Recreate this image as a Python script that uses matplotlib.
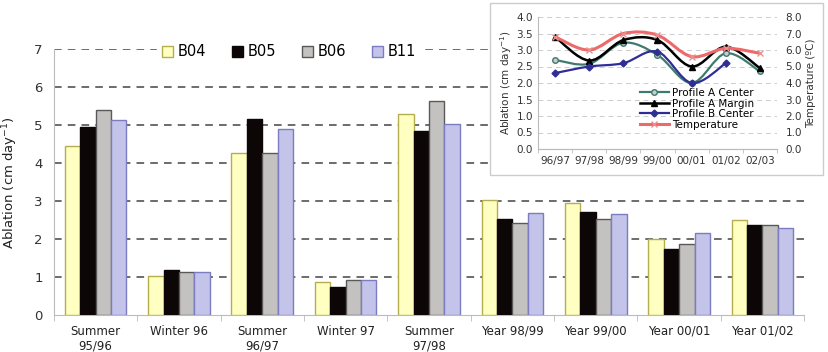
import numpy as np
import matplotlib.pyplot as plt
from matplotlib.path import Path
from matplotlib.patches import PathPatch, Rectangle
from matplotlib.lines import Line2D

categories = ['Summer\n95/96', 'Winter 96', 'Summer\n96/97', 'Winter 97', 'Summer\n97/98',
              'Year 98/99', 'Year 99/00', 'Year 00/01', 'Year 01/02']
b04 = [4.45, 1.02, 4.28, 0.86, 5.30, 3.02, 2.94, 2.00, 2.51]
b05 = [4.96, 1.19, 5.16, 0.74, 4.86, 2.52, 2.71, 1.75, 2.38]
b06 = [5.41, 1.13, 4.28, 0.93, 5.63, 2.42, 2.54, 1.86, 2.38]
b11 = [5.14, 1.13, 4.90, 0.93, 5.03, 2.70, 2.66, 2.15, 2.28]

years = ['96/97', '97/98', '98/99', '99/00', '00/01', '01/02', '02/03']
prof_a_center = [2.70, 2.58, 3.22, 2.85, 2.00, 2.90, 2.35]
prof_a_margin = [3.40, 2.68, 3.30, 3.30, 2.50, 3.10, 2.45]
prof_b_center = [2.30, 2.50, 2.60, 2.95, 2.00, 2.60]
temperature = [6.8, 6.0, 7.0, 6.9, 5.6, 6.1, 5.8]

fig = plt.figure(figsize=(8.29, 3.52), dpi=100)
ax = fig.add_axes([0.065, 0.105, 0.905, 0.755])

x = np.arange(len(categories))
w = 0.185
series = [(b04, '#FFFFC2', '#B5AD4E', 'B04'),
          (b05, '#0D0607', '#0D0607', 'B05'),
          (b06, '#C4C2C0', '#5A5858', 'B06'),
          (b11, '#C4C3EA', '#7C7CC0', 'B11')]
for i, (vals, fc, ec, lab) in enumerate(series):
    ax.bar(x + (i - 1.5) * w, vals, w, color=fc, edgecolor=ec, linewidth=1.0, label=lab, zorder=3)

ax.set_xlim(-0.5, len(categories) - 0.5)
ax.set_ylim(0, 7)
ax.set_yticks(range(8))
for yv in range(1, 8):
    ax.axhline(yv, color='#444444', ls=(0, (5, 4)), lw=1.1, zorder=1)
ax.set_xticks(x)
ax.set_xticklabels(categories, fontsize=8.5, color='#222222')
ax.set_xticks(np.arange(-0.5, len(categories)), minor=True)
ax.tick_params(axis='x', which='major', length=0, pad=7)
ax.tick_params(axis='x', which='minor', length=4, color='#BBBBBB')
ax.tick_params(axis='y', length=0, labelsize=9.5, colors='#333333', pad=8)
for s in ['top', 'right']:
    ax.spines[s].set_visible(False)
ax.spines['left'].set_color('#BBBBBB')
ax.spines['bottom'].set_color('#BBBBBB')
ax.set_ylabel('Ablation (cm day$^{-1}$)', fontsize=9.5, color='#222222', labelpad=10)

leg = ax.legend(loc='upper left', bbox_to_anchor=(0.128, 1.062), ncol=4, frameon=True,
                fontsize=10.5, handlelength=0.8, handleheight=0.8, handletextpad=0.3,
                columnspacing=1.75, borderpad=0.3)
leg.get_frame().set_edgecolor('white')
leg.get_frame().set_facecolor('white')
leg.get_frame().set_alpha(1)

# inset box
fig.patches.append(Rectangle((490 / 829, 1 - 175 / 352), 333 / 829, 172 / 352,
                             transform=fig.transFigure, facecolor='white',
                             edgecolor='#CCCCCC', lw=1.0, zorder=5))

ins = fig.add_axes([538 / 829, 1 - 149 / 352, 239 / 829, 132 / 352], zorder=6)
ins.patch.set_alpha(0)
ins2 = ins.twinx()


def smooth(axis, xs, ys, color, lw):
    # Excel-style smoothed line (Catmull-Rom as cubic Bezier)
    xs = list(xs)
    ys = list(ys)
    verts = [(xs[0], ys[0])]
    codes = [Path.MOVETO]
    n = len(xs)
    for i in range(n - 1):
        p0 = (xs[max(i - 1, 0)], ys[max(i - 1, 0)])
        p1 = (xs[i], ys[i])
        p2 = (xs[i + 1], ys[i + 1])
        p3 = (xs[min(i + 2, n - 1)], ys[min(i + 2, n - 1)])
        c1 = (p1[0] + (p2[0] - p0[0]) / 6, p1[1] + (p2[1] - p0[1]) / 6)
        c2 = (p2[0] - (p3[0] - p1[0]) / 6, p2[1] - (p3[1] - p1[1]) / 6)
        verts += [c1, c2, p2]
        codes += [Path.CURVE4] * 3
    axis.add_patch(PathPatch(Path(verts, codes), facecolor='none', edgecolor=color, lw=lw))


xi = np.arange(len(years))
smooth(ins2, xi, temperature, '#EE6A6A', 2.2)
ins2.plot(xi, temperature, ls='none', marker='x', ms=4, color='#E89090', mew=1)
smooth(ins, xi, prof_a_center, '#3E7B6E', 1.6)
smooth(ins, xi, prof_a_margin, '#000000', 1.8)
smooth(ins, xi[:len(prof_b_center)], prof_b_center, '#2E2E96', 1.6)
ins.plot(xi, prof_a_center, color='#3E7B6E', marker='o', mfc='#CCCCCC', ms=4, lw=0)
ins.plot(xi, prof_a_margin, color='black', marker='^', ms=5, lw=0)
ins.plot(xi[:len(prof_b_center)], prof_b_center, color='#2E2E96', marker='D', ms=3.5, lw=0)

ins.set_xlim(-0.5, 6.5)
ins.set_ylim(0, 4)
ins2.set_ylim(0, 8)
ins.set_yticks(np.arange(0, 4.01, 0.5))
ins.set_yticklabels([f'{v:.1f}' for v in np.arange(0, 4.01, 0.5)])
ins2.set_yticks(range(9))
ins2.set_yticklabels([f'{v:.1f}' for v in range(9)])
ins.set_xticks(xi)
ins.set_xticklabels(years)
ins.set_xticks(np.arange(-0.5, 7), minor=True)
ins.tick_params(axis='x', which='major', length=0, labelsize=7.5, colors='#333333', pad=5)
ins.tick_params(axis='x', which='minor', length=3, color='#BBBBBB')
ins.tick_params(axis='y', length=0, labelsize=7.5, colors='#333333')
ins2.tick_params(axis='y', length=0, labelsize=7.5, colors='#333333', pad=6)
for yv in np.arange(0.5, 4.01, 0.5):
    ins.axhline(yv, color='#CCCCCC', ls=(0, (5, 4)), lw=0.7, zorder=0)
for a in (ins, ins2):
    for s in ['top', 'right']:
        a.spines[s].set_visible(False)
    a.spines['left'].set_color('#BBBBBB')
    a.spines['bottom'].set_color('#BBBBBB')
ins2.spines['left'].set_visible(False)
ins.set_ylabel('Ablation (cm day$^{-1}$)', fontsize=7.5, color='#333333', labelpad=2)
ins2.set_ylabel('Temperature (ºC)', fontsize=7.5, color='#333333', labelpad=3)

hs = [Line2D([], [], color='#3E7B6E', marker='o', mfc='#CCCCCC', ms=4, lw=1.6),
      Line2D([], [], color='black', marker='^', ms=5, lw=1.8),
      Line2D([], [], color='#2E2E96', marker='D', ms=3.5, lw=1.6),
      Line2D([], [], color='#EE6A6A', marker='x', mec='#E89090', ms=4, lw=2.2)]
ins2.legend(hs, ['Profile A Center', 'Profile A Margin', 'Profile B Center', 'Temperature'],
            loc='lower left', bbox_to_anchor=(0.40, 0.10), frameon=False, fontsize=7.5,
            handlelength=2.8, handletextpad=0.3, labelspacing=0.05, borderpad=0.1)

fig.savefig('out.png', dpi=100)
